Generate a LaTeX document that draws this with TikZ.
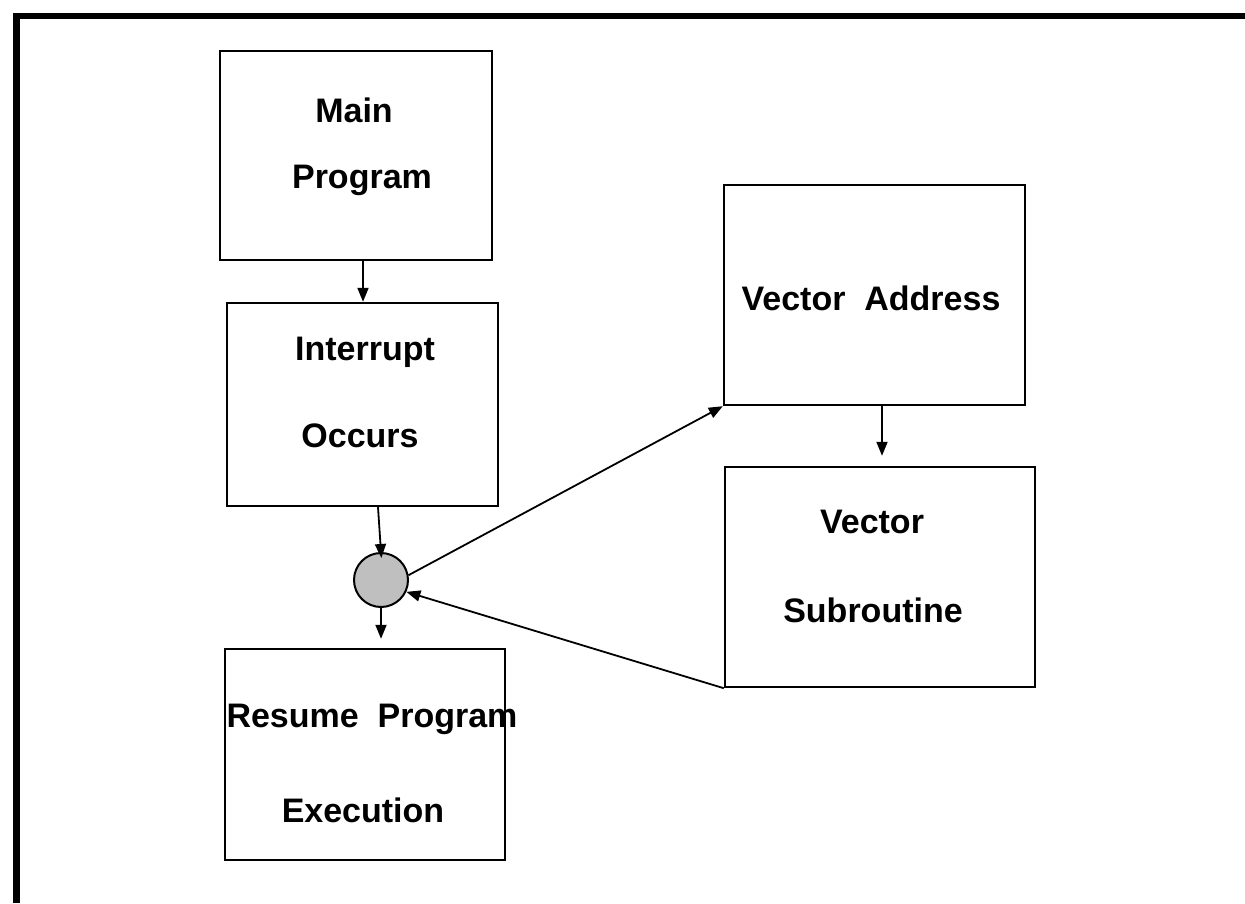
\documentclass[tikz,border=0pt]{standalone}
\usepackage{fontspec}
\setmainfont{Liberation Sans}
\usetikzlibrary{arrows.meta,calc}
\begin{document}
\begin{tikzpicture}[x=1pt,y=-1pt,
  box/.style={draw=black,line width=2.4pt,rectangle,inner sep=0pt},
  lbl/.style={anchor=base,inner sep=0pt,font=\fontsize{34}{40}\selectfont\bfseries},
  arr/.style={draw=black,line width=1.8pt,-{Triangle[length=14pt,width=11pt]}},
  frame/.style={line width=6.5pt}]
\useasboundingbox (0,0) rectangle (1245,903);
\draw[frame] (16.5,903) -- (16.5,16) -- (1245,16);
% boxes
\node[box,minimum width=272pt,minimum height=209pt] (main) at (356,155.5) {};
\node[box,minimum width=271pt,minimum height=203pt] (inter) at (362.5,404.5) {};
\node[box,minimum width=280pt,minimum height=211pt] (res) at (365,754.5) {};
\node[box,minimum width=301pt,minimum height=220pt] (va) at (874.5,295) {};
\node[box,minimum width=310pt,minimum height=220pt] (vs) at (880,577) {};
\node[circle,draw=black,line width=2pt,fill=black!25,minimum size=54pt,inner sep=0pt] (circ) at (381,580) {};
% labels
\node[lbl] (t1) at (354,122) {Main};
\node[lbl] (t2) at (362,188) {Program};
\node[lbl] (t3) at (365,360) {Interrupt};
\node[lbl] (t4) at (360,447) {Occurs};
\node[lbl] (t5) at (372,727) {Resume\ \ Program};
\node[lbl] (t6) at (363,822) {Execution};
\node[lbl] (t7) at (871,310) {Vector\ \ Address};
\node[lbl] (t8) at (872,533) {Vector};
\node[lbl] (t9) at (873,622) {Subroutine};
% helper x positions
\coordinate (x1) at (363,0);
\coordinate (x2) at (378,0);
\coordinate (x3) at (882,0);
% connectors
\draw[arr] (main.south -| x1) -- (inter.north -| x1);
\draw[arr,shorten >=-6pt] (inter.south -| x2) -- (circ.north);
\draw[arr,shorten >=9pt] (circ.south) -- (circ.south |- res.north);
\draw[arr,shorten >=10pt] (va.south -| x3) -- (vs.north -| x3);
\draw[arr] (circ.10) -- (va.south west);
\draw[arr] (vs.south west) -- (circ.-25);
\end{tikzpicture}
\end{document}
